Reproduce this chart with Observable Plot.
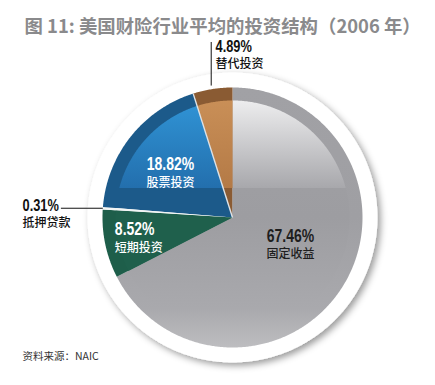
<!DOCTYPE html>
<html>
<head>
<meta charset="utf-8">
<script src="https://cdn.jsdelivr.net/npm/d3@7"></script>
<script src="https://cdn.jsdelivr.net/npm/@observablehq/plot@0.6"></script>
<style>
  html, body { margin: 0; padding: 0; background: #fff; }
  #chart svg { display: block; }
</style>
</head>
<body>
<div id="chart"></div>
<script>
// ---- data ----
const categories = ["固定收益", "短期投资", "抵押贷款", "股票投资", "替代投资"];
const shares = [67.46, 8.52, 0.31, 18.82, 4.89];
const shareLabels = ["67.46%", "8.52%", "0.31%", "18.82%", "4.89%"];
const titleText = "图 11: 美国财险行业平均的投资结构（2006 年）";
const sourceText = "资料来源：NAIC";

// ---- styles ----
const bandColors = ["url(#gGrayBand)", "#1e5e4a", "#f2f5f5", "#1c5a8a", "#8a5b33"];
const innerFills = ["url(#gGray)", "#1f604c", "#f2f5f5", "url(#gBlue)", "url(#gBrown)"];
const NUM_FONT = "'Liberation Sans', 'DejaVu Sans', sans-serif";
const CJK_FONT = "'Noto Sans CJK SC', 'Noto Sans', sans-serif";

// ---- geometry from data ----
const arcs = d3.pie().sort(null).value(d => d)(shares);
function wedge(a0, a1, r, withCenter = true) {
  const pts = withCenter ? [{x: 0, y: 0}] : [];
  const n = Math.max(2, Math.ceil((a1 - a0) / (Math.PI / 360)));
  for (let i = 0; i <= n; i++) {
    const a = a0 + (a1 - a0) * i / n;
    pts.push({x: r * Math.sin(a), y: r * Math.cos(a)});
  }
  return pts;
}
const ringPts = wedge(0, 2 * Math.PI, 1.115, false);
const INNER = 0.9;

const marks = [];
marks.push(Plot.line(ringPts, {x: "x", y: "y", curve: "linear-closed", fill: "#fff", stroke: "none", ariaDescription: "ring"}));
arcs.forEach((a, i) => {
  marks.push(Plot.line(wedge(a.startAngle, a.endAngle, 1), {x: "x", y: "y", curve: "linear-closed", fill: bandColors[i], stroke: "none"}));
});
arcs.forEach((a, i) => {
  marks.push(Plot.line(wedge(a.startAngle, a.endAngle, INNER), {x: "x", y: "y", curve: "linear-closed", fill: innerFills[i], stroke: "none"}));
});
// light separator between equities and alternatives
const sepA = arcs[3].endAngle;
marks.push(Plot.link([0], {x1: 0, y1: 0, x2: Math.sin(sepA), y2: Math.cos(sepA), stroke: "#dde2e6", strokeWidth: 1.4}));

// leader lines
const altMid = (arcs[4].startAngle + arcs[4].endAngle) / 2;
const altX = Math.sin(altMid) * 1.07;
marks.push(Plot.link([0], {x1: altX, y1: 1.015, x2: altX, y2: 1.35, stroke: "#111", strokeWidth: 1}));
const mortMid = (arcs[2].startAngle + arcs[2].endAngle) / 2;
const mortY = Math.cos(mortMid);
marks.push(Plot.link([0], {x1: Math.sin(mortMid), y1: mortY, x2: -1.32, y2: mortY, stroke: "#111", strokeWidth: 1}));

// labels (layout: x, y of value text baseline, anchor, color)
const layout = [
  {x: 0.446, y: -0.188, anchor: "middle", fill: "#1e1e1e", size: 17.5},
  {x: -0.905, y: -0.138, anchor: "start", fill: "#ffffff", size: 17.5},
  {x: -1.615, y: 0.05, anchor: "start", fill: "#111111", size: 16},
  {x: -0.477, y: 0.362, anchor: "middle", fill: "#ffffff", size: 17.5},
  {x: -0.13, y: 1.272, anchor: "start", fill: "#111111", size: 16}
];
const labelData = categories.map((c, i) => ({cat: c, val: shareLabels[i], ...layout[i]}));
["start", "middle"].forEach(anchor => {
  const d = labelData.filter(l => l.anchor === anchor);
  marks.push(Plot.text(d, {x: "x", y: "y", text: "val", fill: "fill", fontSize: "size", textAnchor: anchor, lineAnchor: "bottom", fontWeight: "bold", fontFamily: NUM_FONT, ariaDescription: "nums"}));
  marks.push(Plot.text(d, {x: "x", y: l => l.y - 0.125, text: "cat", fill: "fill", fontSize: 12, textAnchor: anchor, lineAnchor: "bottom", fontWeight: 500, fontFamily: CJK_FONT}));
});

// title & source
marks.push(Plot.text([titleText], {frameAnchor: "top-left", dx: 24, dy: 32, lineAnchor: "bottom", textAnchor: "start", fontSize: 18.4, fontWeight: "bold", fill: "#8a8a8c", fontFamily: CJK_FONT}));
marks.push(Plot.text([sourceText], {frameAnchor: "top-left", dx: 22, dy: 359, lineAnchor: "bottom", textAnchor: "start", fontSize: 10.5, fill: "#333", fontFamily: CJK_FONT}));

const chart = Plot.plot({
  width: 435,
  height: 385,
  margin: 0,
  style: {background: "#fff", overflow: "visible"},
  color: {type: "identity"},
  x: {domain: [-232 / 130, 203 / 130], axis: null},
  y: {domain: [-168 / 130, 217 / 130], axis: null},
  marks
});

// gradients & shadow in pixel space from the plot's y scale
const ys = chart.scale("y");
const yTop = ys.apply(1), yBot = ys.apply(-1);
const svg = d3.select(chart);
const defs = svg.insert("defs", ":first-child");
function grad(id, stops) {
  const g = defs.append("linearGradient").attr("id", id).attr("gradientUnits", "userSpaceOnUse")
    .attr("x1", 0).attr("x2", 0).attr("y1", yTop).attr("y2", yBot);
  stops.forEach(([o, c, op]) => g.append("stop").attr("offset", o).attr("stop-color", c).attr("stop-opacity", op ?? 1));
}
const cut = 0.385;
grad("gGrayBand", [[0, "#a1a1a5"], [0.5, "#9f9fa3"], [0.85, "#a9a9ad"], [1, "#bdbdc0"]]);
grad("gGray", [[0.04, "#efeff0"], [cut, "#a8a8ac"], [cut, "#9e9ea2"], [0.5, "#9d9da1"], [0.85, "#a9a9ad"], [1, "#bdbdc0"]]);
grad("gBlue", [[0.05, "#3094d6"], [cut, "#236fad"], [cut, "#1c5a8a", 0], [1, "#1c5a8a", 0]]);
grad("gBrown", [[0.05, "#c98f57"], [cut, "#b47a46"], [cut, "#8a5b33", 0], [1, "#8a5b33", 0]]);
const f = defs.append("filter").attr("id", "ringShadow").attr("x", "-20%").attr("y", "-20%").attr("width", "140%").attr("height", "140%");
f.append("feDropShadow").attr("dx", 3).attr("dy", 3).attr("stdDeviation", 3.5).attr("flood-color", "#000").attr("flood-opacity", 0.4);
svg.selectAll("g[aria-description='ring']").attr("filter", "url(#ringShadow)");

// condensed look for the percentage figures
svg.selectAll("g[aria-description='nums'] text").each(function() {
  const t = d3.select(this);
  let tr = t.attr("transform");
  if (!tr || !/translate/.test(tr)) {
    const x = +t.attr("x") || 0, y = +t.attr("y") || 0;
    t.attr("x", null).attr("y", null);
    tr = `translate(${x},${y})` + (tr ? " " + tr : "");
  }
  t.attr("transform", tr + " scale(0.8,1)");
});

document.getElementById("chart").appendChild(chart);
</script>
</body>
</html>
